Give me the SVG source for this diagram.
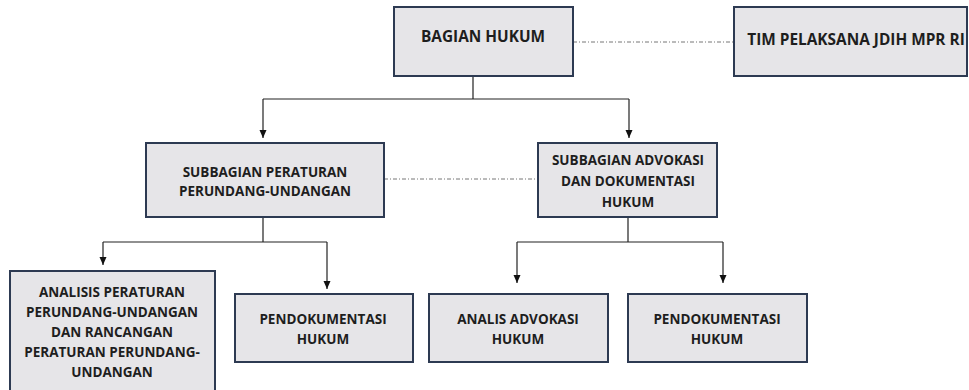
<svg xmlns="http://www.w3.org/2000/svg" width="969" height="390" viewBox="0 0 969 390">
<defs>
<marker id="arr" markerUnits="userSpaceOnUse" markerWidth="10" markerHeight="10" refX="8" refY="3.5" orient="auto" viewBox="0 0 10 10">
<path d="M0,0 L8,3.5 L0,7 Z" fill="#111"/>
</marker>
<style>
.box{fill:#e6e5e8;stroke:#2d3a52;stroke-width:2}
.t{font-family:"Open Sans","Noto Sans",sans-serif;font-weight:700;font-size:13.5px;fill:#1e1e1e;text-anchor:middle}
.big{font-size:15.4px}
.c{fill:none;stroke:#222;stroke-width:1.2}
.d{fill:none;stroke:#777;stroke-width:1;stroke-dasharray:4 2 1 2}
</style>
</defs>
<rect width="969" height="390" fill="#fff"/>
<g id="connectors">
<path class="c" d="M473,76 V99 M263,99 H629"/>
<path class="c" d="M263,99 V138" marker-end="url(#arr)"/>
<path class="c" d="M629,99 V138" marker-end="url(#arr)"/>
<path class="d" d="M573,42 H734"/>
<path class="d" d="M384,179 H538"/>
<path class="c" d="M263,217 V242 M103,242 H327"/>
<path class="c" d="M103,242 V265" marker-end="url(#arr)"/>
<path class="c" d="M327,242 V289" marker-end="url(#arr)"/>
<path class="c" d="M628,217 V242 M517,242 H723"/>
<path class="c" d="M517,242 V283" marker-end="url(#arr)"/>
<path class="c" d="M723,242 V283" marker-end="url(#arr)"/>
</g>
<g id="bagian-hukum">
<rect class="box" x="394" y="7" width="179" height="69"/>
<text class="t big" x="483" y="42">BAGIAN HUKUM</text>
</g>
<g id="tim-pelaksana">
<rect class="box" x="734" y="7" width="233" height="69"/>
<text class="t big" x="856" y="45">TIM PELAKSANA JDIH MPR RI</text>
</g>
<g id="subbagian-peraturan">
<rect class="box" x="146" y="143" width="238" height="74"/>
<text class="t" x="265" y="177">SUBBAGIAN PERATURAN</text>
<text class="t" x="265" y="196">PERUNDANG-UNDANGAN</text>
</g>
<g id="subbagian-advokasi">
<rect class="box" x="538" y="143" width="179" height="74"/>
<text class="t" x="628" y="165">SUBBAGIAN ADVOKASI</text>
<text class="t" x="628" y="186">DAN DOKUMENTASI</text>
<text class="t" x="628" y="207">HUKUM</text>
</g>
<g id="analisis-peraturan">
<rect class="box" x="10" y="271" width="205" height="130"/>
<text class="t" x="112" y="297">ANALISIS PERATURAN</text>
<text class="t" x="112" y="317">PERUNDANG-UNDANGAN</text>
<text class="t" x="112" y="337">DAN RANCANGAN</text>
<text class="t" x="112" y="357">PERATURAN PERUNDANG-</text>
<text class="t" x="112" y="377">UNDANGAN</text>
</g>
<g id="pendokumentasi-hukum-1">
<rect class="box" x="235" y="294" width="178" height="68"/>
<text class="t" x="323" y="324">PENDOKUMENTASI</text>
<text class="t" x="323" y="344">HUKUM</text>
</g>
<g id="analis-advokasi-hukum">
<rect class="box" x="429" y="294" width="179" height="68"/>
<text class="t" x="518" y="324">ANALIS ADVOKASI</text>
<text class="t" x="518" y="344">HUKUM</text>
</g>
<g id="pendokumentasi-hukum-2">
<rect class="box" x="628" y="294" width="179" height="68"/>
<text class="t" x="717" y="324">PENDOKUMENTASI</text>
<text class="t" x="717" y="344">HUKUM</text>
</g>
</svg>
